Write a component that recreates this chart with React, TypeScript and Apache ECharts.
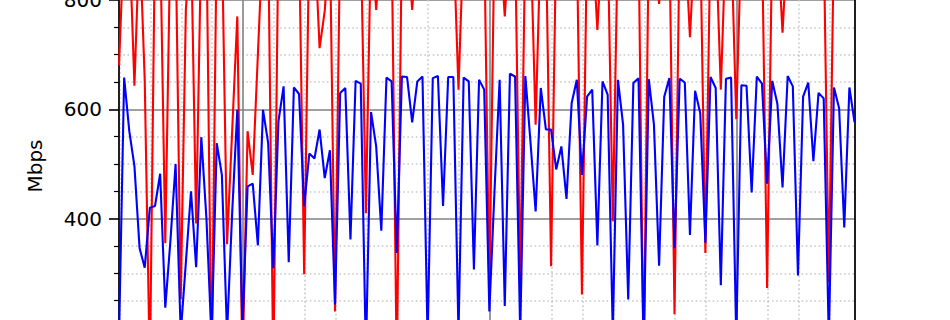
import React, { useEffect, useRef } from "react";
import * as echarts from "echarts";

// time axis in days; samples every 30 minutes
const startDay = 0.4975;
const stepDay = 1 / 48;
const axisMinDay = 0.4975;
const axisMaxDay = 3.4785;

const yTicks = [200, 400, 600, 800];

const blueValues = [
  180, 658, 560, 496, 346, 310, 420, 423, 482, 237,
  360, 500, 190, 320, 450, 311, 549, 400, 180, 538,
  480, 190, 410, 599, 200, 459, 464, 351, 599, 538,
  309, 578, 642, 320, 640, 628, 423, 519, 510, 563,
  474, 525, 243, 630, 639, 362, 652, 647, 150, 595,
  532, 378, 658, 651, 337, 660, 659, 576, 651, 660,
  180, 657, 661, 423, 659, 659, 190, 658, 651, 307,
  654, 636, 230, 450, 654, 240, 665, 660, 190, 661,
  540, 413, 639, 563, 563, 490, 532, 436, 611, 654,
  480, 623, 636, 351, 651, 627, 190, 654, 572, 252,
  648, 657, 170, 655, 572, 314, 623, 657, 346, 656,
  649, 370, 634, 593, 356, 659, 639, 278, 656, 658,
  180, 644, 643, 448, 660, 647, 464, 652, 610, 457,
  661, 642, 296, 623, 649, 505, 630, 620, 180, 640,
  602, 384, 640, 576,
];

const redValues = [
  680, 920, 920, 643, 920, 654, 120, 920, 920, 355,
  920, 920, 252, 782, 920, 391, 920, 920, 120, 920,
  920, 353, 560, 770, 120, 560, 480, 700, 920, 920,
  120, 920, 920, 920, 920, 920, 298, 920, 920, 712,
  780, 920, 230, 920, 920, 920, 920, 920, 410, 920,
  782, 920, 920, 920, 120, 920, 920, 782, 920, 920,
  920, 920, 920, 920, 920, 920, 636, 920, 920, 920,
  920, 920, 265, 920, 920, 770, 920, 920, 276, 920,
  920, 572, 920, 920, 313, 920, 920, 920, 920, 920,
  261, 920, 920, 745, 920, 920, 395, 920, 920, 920,
  920, 920, 120, 920, 920, 793, 920, 920, 225, 920,
  920, 732, 920, 920, 337, 920, 920, 636, 920, 920,
  582, 920, 920, 920, 920, 920, 273, 920, 920, 740,
  920, 920, 920, 920, 920, 920, 920, 920, 284, 920,
  920, 920, 920, 920,
];

const toPairs = (vals: number[]) => vals.map((v, i) => [startDay + i * stepDay, v]);

const FONT = "DejaVu Sans";

export default function App() {
  const ref = useRef<HTMLDivElement>(null);
  useEffect(() => {
    if (!ref.current) return;
    const chart = echarts.init(ref.current, null, { renderer: "svg" });
    const minorGrid = { show: true, lineStyle: { color: "#c8c8c8", width: 1.6, type: [1.6, 2.64] as any } };
    chart.setOption({
      animation: false,
      backgroundColor: "#ffffff",
      grid: { left: 119, top: 0, width: 736, height: 327.9, outerBoundsMode: "none", containLabel: false } as any,
      xAxis: {
        type: "value",
        min: axisMinDay,
        max: axisMaxDay,
        splitNumber: 3,
        minInterval: 1,
        maxInterval: 1,
        axisLine: { show: false },
        axisTick: { show: false },
        axisLabel: { show: false },
        minorTick: { show: false, splitNumber: 8 },
        splitLine: { show: true, lineStyle: { color: "#808080", width: 1.6 } },
        minorSplitLine: minorGrid,
      },
      yAxis: [
        {
          type: "value",
          min: yTicks[0],
          max: yTicks[yTicks.length - 1],
          interval: yTicks[1] - yTicks[0],
          axisLine: { show: true, lineStyle: { color: "#000", width: 1.6 } },
          axisTick: { show: true, length: 10, lineStyle: { color: "#000", width: 1.6 } },
          minorTick: { show: true, splitNumber: 4, length: 5, lineStyle: { color: "#000", width: 1.2 } },
          axisLabel: { margin: 17, color: "#000", fontSize: 20, fontFamily: FONT, showMinLabel: false },
          splitLine: { show: true, lineStyle: { color: "#808080", width: 1.6 } },
          minorSplitLine: minorGrid,
        },
        {
          type: "value",
          position: "right",
          min: yTicks[0],
          max: yTicks[yTicks.length - 1],
          interval: yTicks[1] - yTicks[0],
          axisLine: { show: true, lineStyle: { color: "#000", width: 1.6 } },
          axisTick: { show: false },
          axisLabel: { show: false },
          splitLine: { show: false },
        },
      ],
      graphic: [
        {
          type: "text",
          x: 34.5,
          y: 166,
          rotation: Math.PI / 2,
          style: { text: "Mbps", font: `20px "${FONT}"`, fill: "#000", textAlign: "center", textVerticalAlign: "middle" },
        },
      ],
      series: [
        {
          type: "line",
          data: toPairs(redValues),
          symbol: "none",
          lineStyle: { color: "#ff0000", width: 2.1 },
          itemStyle: { color: "#ff0000" },
        },
        {
          type: "line",
          data: toPairs(blueValues),
          symbol: "none",
          lineStyle: { color: "#0000ff", width: 2.1 },
          itemStyle: { color: "#0000ff" },
        },
      ],
    });
    return () => chart.dispose();
  }, []);
  return (
    <div
      ref={ref}
      style={{ position: "absolute", left: 0, top: 0, width: 950, height: 320 }}
    />
  );
}
